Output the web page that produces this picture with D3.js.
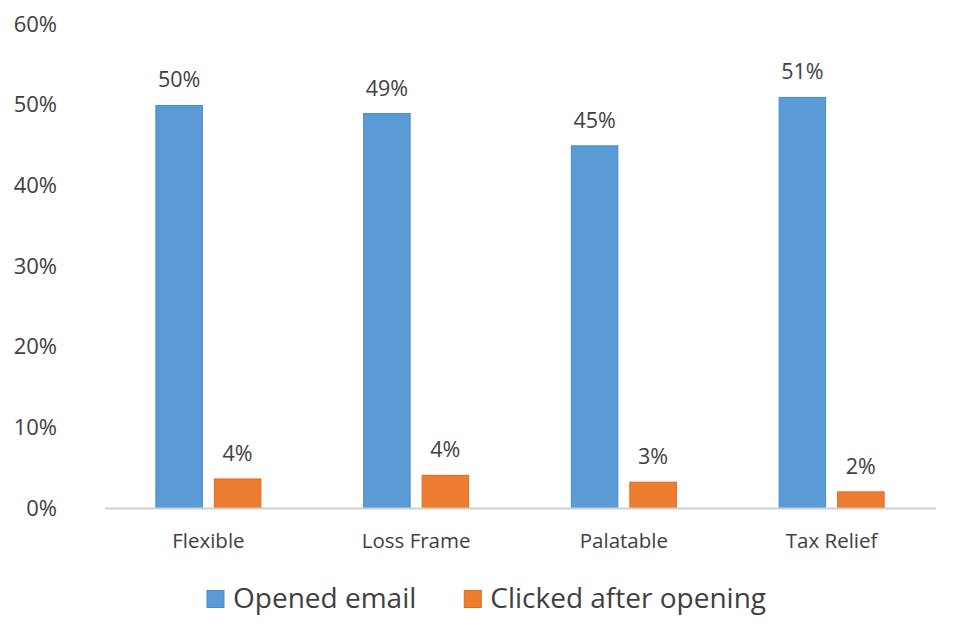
<!DOCTYPE html>
<html>
<head>
<meta charset="utf-8">
<script src="https://cdn.jsdelivr.net/npm/d3@7"></script>
<style>
  html, body { margin: 0; padding: 0; background: #fff; }
  svg { display: block; font-family: "Open Sans", "Noto Sans", sans-serif; }
</style>
</head>
<body>
<svg id="chart" width="960" height="640"></svg>
<script>
const categories = ["Flexible", "Loss Frame", "Palatable", "Tax Relief"];
const seriesNames = ["Opened email", "Clicked after opening"];
const openedEmail = [0.499, 0.489, 0.449, 0.509];
const clickedAfterOpening = [0.036, 0.0405, 0.032, 0.020];
const yTicks = [0, 0.1, 0.2, 0.3, 0.4, 0.5, 0.6];
const colors = ["#5B9BD5", "#ED7D31"];
const strokeColors = ["#4A8ACB", "#E06A1C"];

const seriesValues = [openedEmail, clickedAfterOpening];
const svg = d3.select("#chart");
const margin = { left: 104.5, right: 24.5, top: 24, bottom: 132 };
const W = 960, H = 640;
const x0 = d3.scaleBand().domain(categories).range([margin.left, W - margin.right]).paddingInner(0).paddingOuter(0);
const x1 = d3.scaleBand().domain(seriesNames).range([0, x0.bandwidth()]).paddingInner(0.205).paddingOuter(0.878);
const y = d3.scaleLinear().domain([0, 0.6]).range([H - margin.bottom, margin.top]);
const pct = d3.format(".0%");
const textColor = "#404040";

// Y axis (labels only)
const yAxis = svg.append("g")
  .attr("transform", `translate(${margin.left},0)`)
  .call(d3.axisLeft(y).tickValues(yTicks).tickFormat(pct).tickSize(0).tickPadding(47.5));
yAxis.select(".domain").remove();
yAxis.selectAll("text")
  .attr("font-size", 22).attr("fill", "#404040")
  .attr("font-family", "Open Sans, Noto Sans, sans-serif");

// Bars
const groups = svg.append("g").selectAll("g")
  .data(categories)
  .join("g")
  .attr("transform", d => `translate(${x0(d)},0)`);

groups.selectAll("rect")
  .data((d, i) => seriesNames.map((s, j) => ({ s, j, v: seriesValues[j][i] })))
  .join("rect")
  .attr("x", d => x1(d.s))
  .attr("y", d => y(d.v))
  .attr("width", x1.bandwidth())
  .attr("height", d => y(0) - y(d.v))
  .attr("fill", d => colors[d.j])
  .attr("stroke", d => strokeColors[d.j])
  .attr("stroke-width", 1);

groups.selectAll("text.lbl")
  .data((d, i) => seriesNames.map((s, j) => ({ s, j, v: seriesValues[j][i] })))
  .join("text")
  .attr("class", "lbl")
  .attr("x", d => x1(d.s) + x1.bandwidth() / 2)
  .attr("y", d => y(d.v) - 18)
  .attr("text-anchor", "middle")
  .attr("font-size", 21.5)
  .attr("fill", textColor)
  .text(d => pct(d.v));

// X axis
const xAxis = svg.append("g")
  .attr("transform", `translate(0,${y(0)})`)
  .call(d3.axisBottom(x0).tickSize(0).tickSizeOuter(0));
xAxis.select(".domain").attr("stroke", "#D0D0D0").attr("stroke-width", 2);
xAxis.selectAll("text")
  .attr("y", 40).attr("dy", 0)
  .attr("font-size", 20.5).attr("fill", textColor)
  .attr("font-family", "Open Sans, Noto Sans, sans-serif");

// Legend
const legend = svg.append("g");
const items = legend.selectAll("g").data(seriesNames).join("g");
items.append("rect")
  .attr("width", 17).attr("height", 17)
  .attr("y", -17)
  .attr("fill", (d, i) => colors[i])
  .attr("stroke", (d, i) => strokeColors[i]).attr("stroke-width", 1);
items.append("text")
  .attr("x", 26).attr("y", 0)
  .attr("font-size", 28).attr("fill", textColor)
  .text(d => d);
const widths = [];
items.each(function (d, i) {
  const tw = d3.select(this).select("text").node().getComputedTextLength();
  widths.push(26 + tw);
});
const gapItems = 48;
const total = d3.sum(widths) + gapItems * (widths.length - 1);
const startX = 486.5 - total / 2;
items.attr("transform", (d, i) => {
  const xx = startX + d3.sum(widths.slice(0, i)) + gapItems * i;
  return `translate(${xx},607.5)`;
});
items.select("text").attr("y", 0.5);
</script>
</body>
</html>
